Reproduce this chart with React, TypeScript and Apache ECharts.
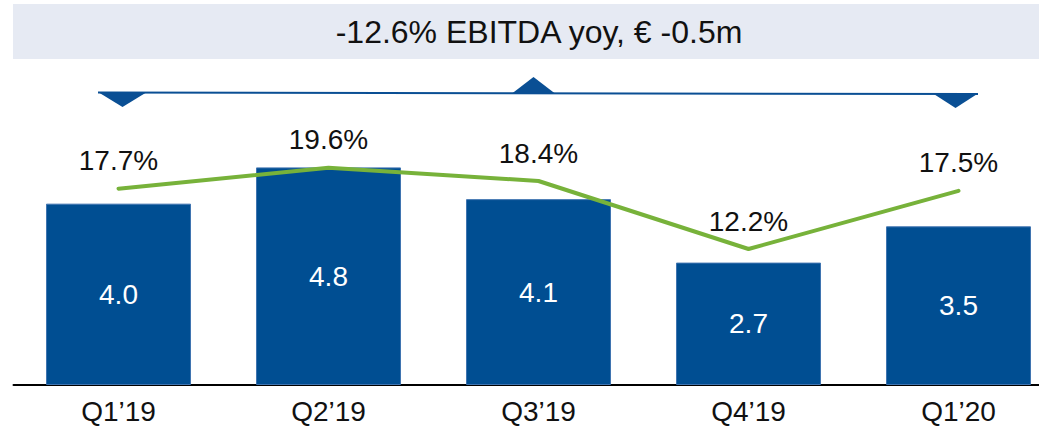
import React, { useEffect, useRef } from "react";
import * as echarts from "echarts";

const categories = ["Q1\u201919", "Q2\u201919", "Q3\u201919", "Q4\u201919", "Q1\u201920"];
const ebitda = [4.0, 4.8, 4.1, 2.7, 3.5];
const margin = [17.7, 19.6, 18.4, 12.2, 17.5];
const headline = "-12.6% EBITDA yoy, \u20ac -0.5m";

const FONT = "'Liberation Sans', Arial, Helvetica, sans-serif";
const BLUE = "#004E92";
const GREEN = "#77B23A";

export default function App() {
  const ref = useRef<HTMLDivElement>(null);
  useEffect(() => {
    if (!ref.current) return;
    const chart = echarts.init(ref.current, undefined, { renderer: "svg" });
    chart.setOption({
      animation: false,
      textStyle: { fontFamily: FONT },
      grid: { left: 13.5, width: 1050, top: 113, bottom: 45, containLabel: false },
      xAxis: {
        type: "category",
        data: categories,
        axisLine: { show: true, lineStyle: { color: "#000", width: 2 } },
        axisTick: { show: false },
        axisLabel: { color: "#111", fontSize: 28, fontFamily: FONT, margin: 12 },
      },
      yAxis: [
        { type: "value", min: 0, max: 6, show: false, splitLine: { show: false } },
        { type: "value", min: -0.2, max: 24.6, show: false, splitLine: { show: false } },
      ],
      series: [
        {
          type: "bar",
          data: ebitda,
          barWidth: 145,
          itemStyle: { color: BLUE, borderColor: "#3F74B0", borderWidth: 1 },
          label: {
            show: true,
            position: "inside",
            color: "#fff",
            fontSize: 28,
            fontFamily: FONT,
            formatter: (p: any) => p.value.toFixed(1),
          },
          z: 2,
        },
        {
          type: "line",
          yAxisIndex: 1,
          data: margin,
          showSymbol: true,
          symbol: "circle",
          symbolSize: 0,
          itemStyle: { color: GREEN },
          lineStyle: { color: GREEN, width: 4, cap: "round", join: "round" },
          label: {
            show: true,
            position: "top",
            distance: 14,
            color: "#111",
            fontSize: 28,
            fontFamily: FONT,
            formatter: (p: any) => p.value.toFixed(1) + "%",
          },
          z: 3,
        },
      ],
      graphic: [
        {
          type: "rect",
          shape: { x: 13, y: 4, width: 1100, height: 55 },
          style: { fill: "#E6EAF3" },
          silent: true,
        },
        {
          type: "text",
          x: 539,
          y: 32,
          style: {
            text: headline,
            font: `32px ${FONT}`,
            fill: "#111",
            textAlign: "center",
            textVerticalAlign: "middle",
          },
        },
        {
          type: "line",
          shape: { x1: 98, y1: 92.5, x2: 978, y2: 94 },
          style: { stroke: "#0A4F94", lineWidth: 2 },
        },
        {
          type: "polygon",
          shape: { points: [[98, 92], [147, 92], [122.5, 107]] },
          style: { fill: "#0A4F94" },
        },
        {
          type: "polygon",
          shape: { points: [[512, 93.5], [555, 93.5], [533.5, 77]] },
          style: { fill: "#0A4F94" },
        },
        {
          type: "polygon",
          shape: { points: [[933, 93.5], [978, 93.5], [955.5, 108]] },
          style: { fill: "#0A4F94" },
        },
      ],
    });
    return () => chart.dispose();
  }, []);
  return (
    <div style={{ position: "absolute", left: 0, top: 0, width: 1039, height: 430, overflow: "hidden", background: "#fff" }}>
      <div ref={ref} style={{ width: 1080, height: 430 }} />
    </div>
  );
}
